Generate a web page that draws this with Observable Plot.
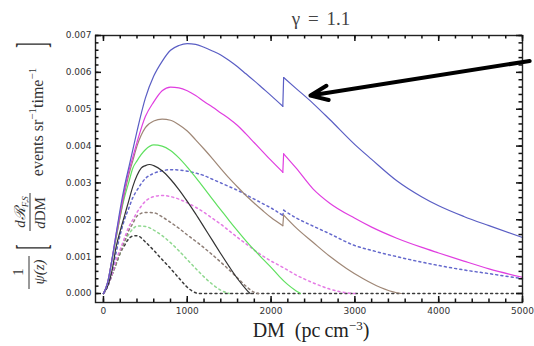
<!DOCTYPE html>
<html><head><meta charset="utf-8">
<script src="https://cdn.jsdelivr.net/npm/d3@7"></script>
<script src="https://cdn.jsdelivr.net/npm/@observablehq/plot@0.6"></script>
<style>
body{margin:0;background:#fff;}
#chart{width:534px;height:346px;}
</style>
</head><body><div id="chart"></div>
<script>
// ---- data ----
const titleText = "γ = 1.1";
const xLabelParts = ["DM\u2002(pc\u2009cm", "−3", ")"];
const xTicks = [0, 1000, 2000, 3000, 4000, 5000];
const xMinor = d3.range(0, 5001, 200);
const yTicks = [0, 0.001, 0.002, 0.003, 0.004, 0.005, 0.006, 0.007];
const yTickLabels = ["0.000","0.001","0.002","0.003","0.004","0.005","0.006","0.007"];
const yMinor = d3.range(0, 0.00701, 0.0002);

const blueSolidA = [[0,0],[50,0.0003],[100,0.0009],[150,0.0016],[200,0.0023],[250,0.0029],[300,0.0034],[350,0.0039],[400,0.0044],[500,0.0053],[600,0.0059],[700,0.0063],[800,0.0066],[900,0.00673],[1000,0.00678],[1100,0.00676],[1200,0.00668],[1300,0.00658],[1400,0.00647],[1500,0.00632],[1600,0.00615],[1700,0.00596],[1800,0.00577],[1900,0.00557],[2000,0.00537],[2140,0.00508]];
const blueSolidB = [[2150,0.00586],[2300,0.00556],[2500,0.00516],[2700,0.00472],[3000,0.00404],[3200,0.00364],[3500,0.00306],[3800,0.00262],[4000,0.00238],[4300,0.00209],[4600,0.00184],[5000,0.00152]];
const magentaSolidA = [[0,0],[50,0.0003],[100,0.0009],[150,0.0016],[200,0.0022],[250,0.0028],[300,0.0033],[350,0.0037],[400,0.0041],[500,0.0048],[600,0.0052],[700,0.0055],[800,0.0056],[900,0.00558],[1000,0.0055],[1100,0.00537],[1200,0.00521],[1300,0.00506],[1400,0.0049],[1500,0.00474],[1600,0.00456],[1700,0.00433],[1800,0.00409],[1900,0.00385],[2000,0.00361],[2140,0.00329]];
const magentaSolidB = [[2150,0.00379],[2300,0.0034],[2500,0.00284],[2700,0.00245],[3000,0.00204],[3200,0.0018],[3500,0.0015],[3800,0.00125],[4000,0.0011],[4300,0.00088],[4600,0.00067],[5000,0.00044]];
const brownSolidA = [[0,0],[50,0.0003],[100,0.0009],[150,0.0015],[200,0.0021],[250,0.0027],[300,0.0032],[350,0.0036],[400,0.004],[500,0.0045],[600,0.00468],[700,0.00473],[800,0.0047],[900,0.00458],[1000,0.00441],[1100,0.00417],[1200,0.00392],[1300,0.00366],[1400,0.00339],[1500,0.00313],[1600,0.00289],[1700,0.00266],[1800,0.00245],[1900,0.00225],[2000,0.00206],[2140,0.00184]];
const brownSolidB = [[2150,0.00213],[2300,0.00178],[2500,0.00139],[2700,0.00101],[2900,0.00068],[3100,0.0004],[3300,0.00017],[3500,0.00002],[3550,0]];
const greenSolid = [[0,0],[50,0.0003],[100,0.0009],[150,0.0015],[200,0.0021],[250,0.0026],[300,0.003],[350,0.0034],[400,0.0036],[500,0.0039],[600,0.00403],[700,0.004],[800,0.00388],[900,0.00368],[1000,0.00343],[1100,0.00315],[1200,0.00286],[1300,0.00256],[1400,0.00227],[1500,0.00198],[1600,0.0017],[1700,0.00143],[1800,0.00118],[1900,0.00094],[2000,0.00071],[2100,0.00046],[2200,0.00024],[2300,0.00007],[2350,0]];
const blackSolid = [[0,0],[50,0.0002],[100,0.0006],[150,0.00125],[200,0.0017],[250,0.0021],[300,0.0025],[350,0.0029],[400,0.0032],[450,0.0034],[500,0.00347],[550,0.0035],[600,0.00347],[700,0.00333],[800,0.0031],[900,0.00282],[1000,0.0025],[1100,0.00216],[1200,0.0018],[1300,0.00144],[1400,0.00108],[1500,0.00073],[1600,0.0004],[1700,0.00012],[1750,0]];

const blueDashA = [[0,0],[50,0.0002],[100,0.0006],[150,0.0011],[200,0.0016],[250,0.002],[300,0.0023],[350,0.0026],[400,0.0028],[500,0.00312],[600,0.00326],[700,0.00333],[800,0.00336],[900,0.00335],[1000,0.00332],[1100,0.00327],[1200,0.0032],[1300,0.0031],[1400,0.003],[1500,0.0029],[1600,0.0028],[1700,0.00268],[1800,0.00256],[1900,0.00244],[2000,0.00232],[2140,0.00212]];
const blueDashB = [[2150,0.00226],[2300,0.00205],[2500,0.00183],[2700,0.00162],[3000,0.0013],[3200,0.00117],[3500,0.001],[3800,0.00085],[4000,0.00076],[4300,0.00064],[4600,0.00054],[5000,0.0004]];
const magentaDash = [[0,0],[50,0.0002],[100,0.0005],[150,0.0009],[200,0.0012],[250,0.0015],[300,0.0018],[350,0.002],[400,0.0022],[500,0.0025],[600,0.00263],[700,0.00266],[800,0.00263],[900,0.00256],[1000,0.00246],[1100,0.00234],[1200,0.0022],[1300,0.00204],[1400,0.00188],[1500,0.0017],[1600,0.00152],[1700,0.00135],[1800,0.00118],[1900,0.00102],[2000,0.00088],[2100,0.00076],[2200,0.00063],[2300,0.0005],[2400,0.00039],[2500,0.00029],[2600,0.0002],[2700,0.00012],[2800,0.00006],[2900,0.00002],[3000,0]];
const brownDash = [[0,0],[50,0.0002],[100,0.0005],[150,0.0008],[200,0.0011],[250,0.0014],[300,0.0017],[350,0.0019],[400,0.0021],[500,0.0022],[600,0.00219],[700,0.00208],[800,0.00193],[900,0.00177],[1000,0.00159],[1100,0.00142],[1200,0.00124],[1300,0.00105],[1400,0.00085],[1500,0.00064],[1600,0.00042],[1700,0.0002],[1800,0.00003],[1850,0]];
const greenDash = [[0,0],[50,0.0002],[100,0.0005],[150,0.0008],[200,0.0011],[250,0.0014],[300,0.0016],[350,0.00175],[400,0.00183],[500,0.00182],[600,0.00172],[700,0.00157],[800,0.00138],[900,0.00116],[1000,0.00092],[1100,0.00068],[1200,0.00045],[1300,0.00025],[1400,0.00009],[1500,0]];
const blackDash = [[0,0],[50,0.0002],[100,0.0005],[150,0.0008],[200,0.0011],[250,0.0013],[300,0.00148],[350,0.00156],[400,0.00157],[500,0.0014],[600,0.00117],[700,0.00092],[800,0.00068],[900,0.00042],[1000,0.00017],[1100,0.00002],[1150,0],[5000,0]];

const arrowTail = [5085, 0.00631];
const arrowTip = [2470, 0.00537];

// ---- styles / layout ----
const C = {
  blue: "#5a5ec4", magenta: "#e03ee0", brown: "#9f8776", green: "#5fe05f", black: "#333333",
  blueD: "#6468cc", magentaD: "#e57ae5", brownD: "#8e7e76", greenD: "#8fd88f", blackD: "#3a3a3a"
};
const W = 534, H = 346, mL = 95, mR = 12, mT = 35, mB = 44;
const plotW = W - mL - mR, plotH = H - mT - mB;
const xDomain = [-95, 5000];
const yDomain = [-0.000244, 0.007];

function solid(data, color) {
  return Plot.line(data, {x: d => d[0], y: d => d[1], stroke: color, strokeWidth: 1.2, curve: "monotone-x"});
}
function dashed(data, color) {
  return Plot.line(data, {x: d => d[0], y: d => d[1], stroke: color, strokeWidth: 1.5, strokeDasharray: "2,3.2", curve: "monotone-x"});
}
function jump(a, b, color, dash) {
  const seg = [a[a.length - 1], b[0]];
  return Plot.line(seg, {x: d => d[0], y: d => d[1], stroke: color, strokeWidth: dash ? 1.5 : 1.2, strokeDasharray: dash ? "2,3.2" : null});
}
const tk = "#111";
// inward frame ticks, drawn as rules shortened by insets
function ticksX(vals, len) {
  return [
    Plot.ruleX(vals, {x: d => d, stroke: tk, strokeWidth: 1.5, insetTop: plotH - len}),
    Plot.ruleX(vals, {x: d => d, stroke: tk, strokeWidth: 1.5, insetBottom: plotH - len})
  ];
}
function ticksY(vals, len) {
  return [
    Plot.ruleY(vals, {y: d => d, stroke: tk, strokeWidth: 1.5, insetRight: plotW - len}),
    Plot.ruleY(vals, {y: d => d, stroke: tk, strokeWidth: 1.5, insetLeft: plotW - len})
  ];
}

const chart = Plot.plot({
  width: W, height: H,
  marginLeft: mL, marginRight: mR, marginTop: mT, marginBottom: mB,
  x: {domain: xDomain},
  y: {domain: yDomain},
  style: {fontFamily: "'DejaVu Sans', sans-serif", fontSize: "9px", color: "#333", background: "white", overflow: "visible"},
  marks: [
    dashed(blackDash, C.blackD),
    dashed(greenDash, C.greenD),
    dashed(brownDash, C.brownD),
    dashed(magentaDash, C.magentaD),
    dashed(blueDashA, C.blueD), jump(blueDashA, blueDashB, C.blueD, true), dashed(blueDashB, C.blueD),
    solid(blackSolid, C.black),
    solid(greenSolid, C.green),
    solid(brownSolidA, C.brown), jump(brownSolidA, brownSolidB, C.brown), solid(brownSolidB, C.brown),
    solid(magentaSolidA, C.magenta), jump(magentaSolidA, magentaSolidB, C.magenta), solid(magentaSolidB, C.magenta),
    solid(blueSolidA, C.blue), jump(blueSolidA, blueSolidB, C.blue), solid(blueSolidB, C.blue),
    Plot.frame({stroke: "#222", strokeWidth: 1.4}),
    ...ticksX(xTicks, 6), ...ticksX(xMinor, 3.5),
    ...ticksY(yTicks, 6), ...ticksY(yMinor, 3.5),
    Plot.axisX({anchor: "bottom", ticks: xTicks, tickSize: 0, tickPadding: 5, label: null, tickFormat: d => String(d)}),
    Plot.axisY({anchor: "left", ticks: yTicks, tickSize: 0, tickPadding: 4, label: null, tickFormat: (d, i) => yTickLabels[i]}),
    Plot.arrow([{x1: arrowTail[0], y1: arrowTail[1], x2: arrowTip[0], y2: arrowTip[1]}],
      {x1: "x1", y1: "y1", x2: "x2", y2: "y2", stroke: "black", strokeWidth: 4, headLength: 7, headAngle: 45})
  ]
});
document.getElementById("chart").appendChild(chart);

// ---- title & axis labels (real text) ----
const svg = d3.select(chart);
const serif = "'Liberation Serif', 'DejaVu Serif', serif";
svg.append("text").attr("x", 321).attr("y", 25).attr("text-anchor", "middle")
  .attr("font-family", serif).attr("font-size", 19).attr("fill", "#444").attr("word-spacing", 3)
  .text(titleText);

const xl = svg.append("text").attr("x", 311).attr("y", 337).attr("text-anchor", "middle")
  .attr("font-family", serif).attr("font-size", 20).attr("fill", "#222");
xl.append("tspan").text(xLabelParts[0]);
xl.append("tspan").attr("font-size", 13).attr("dy", -7).text(xLabelParts[1]);
xl.append("tspan").attr("dy", 7).text(xLabelParts[2]);

// rotated y label pieces
function rot(X, Y, size, extra) {
  return svg.append("text").attr("transform", `translate(${X},${Y}) rotate(-90)${extra || ""}`)
    .attr("text-anchor", "middle").attr("font-family", serif).attr("font-size", size).attr("fill", "#333");
}
rot(23, 272, 15).text("1");
svg.append("line").attr("x1", 29).attr("x2", 29).attr("y1", 256).attr("y2", 289).attr("stroke", "#333").attr("stroke-width", 1);
rot(44, 272, 15).attr("font-style", "italic").text("ψ(z)");
rot(45, 247, 16, " scale(1,2.6)").text("[");
const num = rot(25, 212, 15).attr("font-style", "italic");
num.append("tspan").text("dℛ");
num.append("tspan").attr("font-size", 9).attr("dy", 3).text("F,S");
svg.append("line").attr("x1", 30).attr("x2", 30).attr("y1", 193).attr("y2", 231).attr("stroke", "#333").attr("stroke-width", 1);
const den = rot(45, 213, 15);
den.append("tspan").attr("font-style", "italic").text("d");
den.append("tspan").text("DM");
const ev = rot(43, 122, 16);
ev.append("tspan").text("events sr");
ev.append("tspan").attr("font-size", 11).attr("dy", -7).text("−1");
ev.append("tspan").attr("dy", 7).text("time");
ev.append("tspan").attr("font-size", 11).attr("dy", -7).text("−1");
rot(45, 45, 16, " scale(1,2.6)").text("]");
</script>
</body></html>
